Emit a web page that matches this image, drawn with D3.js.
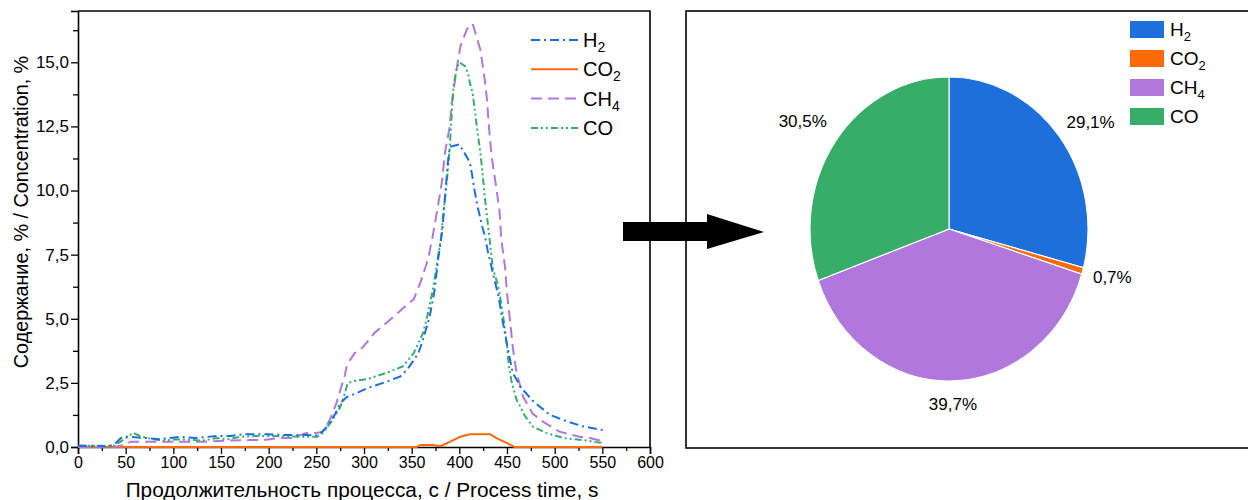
<!DOCTYPE html>
<html>
<head>
<meta charset="utf-8">
<script src="https://cdn.jsdelivr.net/npm/d3@7"></script>
<style>
  body { margin: 0; background: #fff; }
  text { font-family: "Liberation Sans", Arial, sans-serif; }
</style>
</head>
<body>
<div id="container"></div>
<script>
/* CONSTANTS AND GLOBALS */
const width = 1248;
const height = 500;

const margin = { left: 78, right: 598, top: 11, bottom: 53 };

const seriesNames = ["H2", "CO2", "CH4", "CO"];
const seriesLabels = [["H", "2"], ["CO", "2"], ["CH", "4"], ["CO", ""]];
const colors = ["#1d6fdc", "#fb6a07", "#b077dc", "#38ad6a"];
const dashes = ["9,4,2,4", null, "11,6", "7,3,2,3,2,3"];

/* DATA */
const h2Time = [0, 20, 30, 38, 45, 50, 60, 72, 86, 107, 123, 146, 160, 173, 198, 215, 240, 252, 261, 270, 275, 282, 292, 304, 324, 338, 345, 357, 362, 369, 374, 378, 382, 386, 388, 390, 400, 408, 411, 413, 416, 419, 424, 427, 430, 437, 441, 445, 448, 451, 456, 464, 477, 495, 513, 530, 551];
const h2Values = [0.05, 0.05, 0.02, 0.1, 0.35, 0.4, 0.38, 0.35, 0.3, 0.4, 0.35, 0.43, 0.43, 0.5, 0.5, 0.47, 0.47, 0.45, 0.78, 1.3, 1.7, 1.95, 2.1, 2.3, 2.55, 2.75, 3.0, 3.65, 4.2, 5.1, 6.1, 7.4, 8.4, 10.2, 11.1, 11.7, 11.8, 11.3, 11.1, 10.7, 10.0, 9.4, 8.6, 8.2, 7.6, 6.5, 5.9, 5.0, 4.4, 3.8, 2.9, 2.35, 1.8, 1.25, 1.0, 0.8, 0.66];

const co2Time = [0, 355, 360, 372, 380, 390, 401, 411, 432, 439, 450, 458, 550];
const co2Values = [0, 0, 0.08, 0.08, 0.03, 0.2, 0.4, 0.5, 0.5, 0.35, 0.15, 0, 0];

const ch4Time = [0, 35, 45, 55, 60, 73, 89, 104, 130, 155, 180, 194, 210, 224, 240, 250, 257, 264, 271, 275, 280, 282, 290, 299, 311, 327, 345, 352, 359, 367, 372, 378, 382, 385, 390, 392, 397, 401, 408, 414, 418, 422, 426, 429, 431, 434, 438, 442, 444, 448, 450, 453, 456, 460, 467, 477, 488, 505, 526, 537, 550];
const ch4Values = [0, 0, 0.05, 0.2, 0.2, 0.2, 0.2, 0.2, 0.2, 0.25, 0.27, 0.27, 0.35, 0.35, 0.55, 0.55, 0.6, 1.05, 1.7, 2.2, 2.8, 3.2, 3.65, 3.9, 4.45, 4.95, 5.55, 5.75, 6.4, 7.3, 8.2, 9.5, 10.4, 11.5, 12.5, 13.4, 14.7, 15.6, 16.3, 16.5, 16.0, 15.5, 14.5, 13.55, 12.5, 11.3, 10.3, 9.25, 8.1, 7.0, 6.0, 5.0, 3.9, 2.9, 1.95, 1.3, 0.98, 0.6, 0.4, 0.35, 0.23];

const coTime = [0, 38, 47, 58, 67, 79, 89, 104, 131, 146, 157, 170, 188, 205, 233, 251, 257, 267, 275, 280, 283, 294, 304, 324, 341, 352, 362, 367, 372, 376, 381, 384, 387, 390, 392, 394, 397, 400, 406, 409, 411, 414, 416, 419, 422, 424, 427, 429, 431, 435, 441, 445, 448, 450, 452, 455, 460, 469, 477, 491, 509, 530, 545, 550];
const coValues = [0.05, 0.05, 0.27, 0.55, 0.4, 0.3, 0.25, 0.3, 0.25, 0.35, 0.3, 0.4, 0.43, 0.43, 0.4, 0.4, 0.55, 1.05, 1.55, 2.1, 2.5, 2.6, 2.65, 2.9, 3.15, 3.65, 4.45, 5.2, 6.1, 7.0, 8.2, 9.4, 10.4, 11.7, 13.0, 14.1, 14.7, 15.0, 14.85, 14.6, 14.2, 13.8, 13.2, 12.3, 11.5, 10.8, 9.65, 9.0, 8.35, 7.0, 6.25, 5.35, 4.55, 3.9, 3.15, 2.5, 1.85, 1.2, 0.8, 0.55, 0.35, 0.27, 0.18, 0.18];

// pie shares, %
const pieValues = [29.1, 0.7, 39.7, 30.5];
const pieLabels = ["29,1%", "0,7%", "39,7%", "30,5%"];

const xTicks = [0, 50, 100, 150, 200, 250, 300, 350, 400, 450, 500, 550, 600];
const yTicks = [0, 2.5, 5, 7.5, 10, 12.5, 15];

const series = [
  { time: h2Time, values: h2Values },
  { time: co2Time, values: co2Values },
  { time: ch4Time, values: ch4Values },
  { time: coTime, values: coValues }
].map((s, i) => ({
  name: seriesNames[i],
  points: s.time.map((t, j) => ({ t: t, v: s.values[j] }))
}));

// CREATE SVG ELEMENT
const svg = d3.select("#container")
  .append("svg")
  .attr("width", width)
  .attr("height", height)
  .style("display", "block");

/* LINE CHART */
const plotW = width - margin.left - margin.right;
const plotH = height - margin.top - margin.bottom;

// + SCALES
const xScale = d3.scaleLinear()
  .domain([0, 600])
  .range([margin.left, margin.left + plotW]);

const yScale = d3.scaleLinear()
  .domain([0, 17])
  .range([margin.top + plotH, margin.top]);

const fmt = d => d3.format(".1f")(d).replace(".", ",");

// minor ticks first
svg.append("g")
  .attr("transform", `translate(0, ${margin.top + plotH})`)
  .call(d3.axisBottom(xScale).tickValues(d3.range(25, 600, 50)).tickSize(4).tickFormat(""))
  .call(g => g.select(".domain").remove());

svg.append("g")
  .attr("transform", `translate(${margin.left}, 0)`)
  .call(d3.axisLeft(yScale).tickValues(d3.range(1.25, 17, 2.5)).tickSize(5).tickFormat(""))
  .call(g => g.select(".domain").remove());

// BUILD AND CALL AXES
const xAxisGroup = svg.append("g")
  .attr("class", "xAxis")
  .attr("transform", `translate(0, ${margin.top + plotH})`)
  .call(d3.axisBottom(xScale).tickValues(xTicks).tickSize(7).tickPadding(3).tickFormat(d3.format("d")));

const yAxisGroup = svg.append("g")
  .attr("class", "yAxis")
  .attr("transform", `translate(${margin.left}, 0)`)
  .call(d3.axisLeft(yScale).tickValues(yTicks).tickSize(7).tickPadding(2).tickFormat(fmt));

svg.selectAll(".xAxis text, .yAxis text")
  .attr("font-family", "Liberation Sans, Arial, sans-serif")
  .attr("fill", "#000");
svg.selectAll(".xAxis text").attr("font-size", 16);
svg.selectAll(".yAxis text").attr("font-size", 17);
svg.selectAll(".tick line").attr("stroke", "#000").attr("stroke-width", 1.3);
svg.selectAll(".domain").attr("stroke", "#000").attr("stroke-width", 1.6);

// frame top and right
svg.append("path")
  .attr("d", `M${margin.left},${margin.top}H${margin.left + plotW}V${margin.top + plotH}`)
  .attr("fill", "none")
  .attr("stroke", "#000")
  .attr("stroke-width", 1.6);

svg.append("text")
  .attr("x", margin.left + plotW / 2 - 2)
  .attr("y", 497)
  .attr("text-anchor", "middle")
  .attr("font-size", 20.8)
  .text("Продолжительность процесса, с / Process time, s");

svg.append("text")
  .attr("transform", `translate(28, 212) rotate(-90)`)
  .attr("text-anchor", "middle")
  .attr("font-size", 19.8)
  .text("Содержание, % / Concentration, %");

// LINE GENERATOR FUNCTION
const lineGen = d3.line()
  .x(d => xScale(d.t))
  .y(d => yScale(d.v));

// DRAW LINES (CO2 first so it stays under others near zero)
const drawOrder = [1, 2, 3, 0];
drawOrder.forEach(i => {
  svg.append("path")
    .datum(series[i].points)
    .attr("class", `line${i}`)
    .attr("fill", "none")
    .attr("stroke", colors[i])
    .attr("stroke-width", 2)
    .attr("stroke-dasharray", dashes[i])
    .attr("stroke-linejoin", "round")
    .attr("d", lineGen);
});

// legend
const legend = svg.append("g").attr("transform", "translate(531, 40)");
seriesNames.forEach((name, i) => {
  const row = legend.append("g").attr("transform", `translate(0, ${i * 29.3})`);
  row.append("line")
    .attr("x1", 0).attr("x2", 47)
    .attr("stroke", colors[i])
    .attr("stroke-width", 2)
    .attr("stroke-dasharray", dashes[i]);
  const t = row.append("text")
    .attr("x", 52)
    .attr("y", 7)
    .attr("font-size", 20);
  t.append("tspan").text(seriesLabels[i][0]);
  t.append("tspan").attr("font-size", 14).attr("dy", 5).text(seriesLabels[i][1]);
});

/* ARROW */
svg.append("path")
  .attr("d", "M623,222H707V214L764,232L707,249V241H623Z")
  .attr("fill", "#000");

/* PIE CHART */
svg.append("rect")
  .attr("x", 686).attr("y", 11)
  .attr("width", 600).attr("height", 437)
  .attr("fill", "none")
  .attr("stroke", "#000")
  .attr("stroke-width", 1.6);

const pieCx = 949, pieCy = 229, pieRy = 152, pieRx = 139;

const pie = d3.pie().sort(null).value(d => d);
const arcs = pie(pieValues);

const arcGen = d3.arc().innerRadius(0).outerRadius(pieRy);

svg.append("g")
  .attr("transform", `translate(${pieCx}, ${pieCy}) scale(${pieRx / pieRy}, 1)`)
  .selectAll("path")
  .data(arcs)
  .join("path")
  .attr("d", arcGen)
  .attr("fill", (d, i) => colors[i])
  .attr("stroke", "#fff")
  .attr("stroke-width", 1.2);

const labelArc = d3.arc().innerRadius(177).outerRadius(177);
svg.append("g")
  .attr("transform", `translate(${pieCx}, ${pieCy})`)
  .selectAll("text")
  .data(arcs)
  .join("text")
  .attr("x", d => labelArc.centroid(d)[0] * (d.index === 1 ? 0.96 : 1.01))
  .attr("y", d => labelArc.centroid(d)[1] * (d.index === 3 ? 1.06 : 0.99) + 6)
  .attr("text-anchor", "middle")
  .attr("font-size", 17)
  .text((d, i) => pieLabels[i]);

// pie legend
const pieLegend = svg.append("g").attr("transform", "translate(1130, 21)");
seriesNames.forEach((name, i) => {
  const row = pieLegend.append("g").attr("transform", `translate(0, ${i * 29})`);
  row.append("rect")
    .attr("width", 34).attr("height", 17)
    .attr("fill", colors[i]);
  const t = row.append("text")
    .attr("x", 40)
    .attr("y", 15)
    .attr("font-size", 19);
  t.append("tspan").text(seriesLabels[i][0]);
  t.append("tspan").attr("font-size", 13).attr("dy", 5).text(seriesLabels[i][1]);
});
</script>
</body>
</html>
